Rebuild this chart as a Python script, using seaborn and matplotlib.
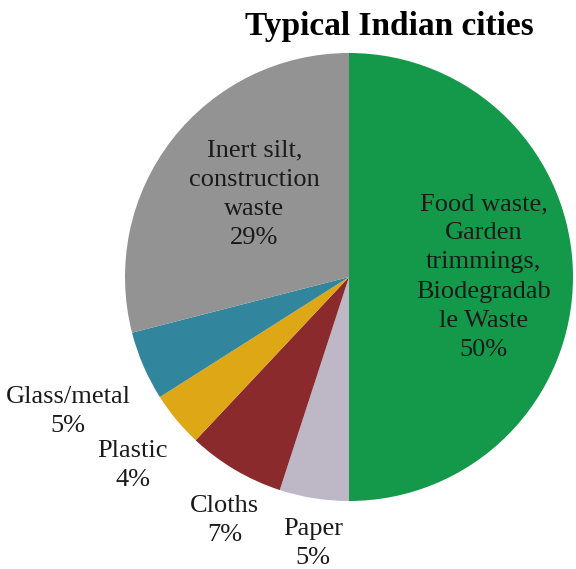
import numpy as np
import matplotlib
matplotlib.use("Agg")
import matplotlib.pyplot as plt
import seaborn as sns

categories = ["Food waste,\nGarden\ntrimmings,\nBiodegradab\nle Waste",
              "Paper", "Cloths", "Plastic", "Glass/metal",
              "Inert silt,\nconstruction\nwaste"]
values = [50, 5, 7, 4, 5, 29]
colors = ["#14994a", "#bdb7c6", "#8a2a2c", "#dda715", "#31859c", "#939393"]
label_dist = [0.60, 1.20, 1.22, 1.28, 1.39, 0.56]
label_turn = [0.0, 1.3, 3.6, 1.4, 2.2, -3.3]   # degrees, label placement tweak

sns.set_theme(style="white")
plt.rcParams["font.family"] = ["Liberation Serif", "DejaVu Serif"]

fig = plt.figure(figsize=(5.76, 5.69), dpi=100)
ax = fig.add_axes([125 / 576, 1 - 501 / 569, 448 / 576, 448 / 569])
palette = sns.color_palette(colors)
wedges, _ = ax.pie(values, colors=palette, startangle=90, counterclock=False,
                   wedgeprops=dict(linewidth=0))
ax.set_xlim(-1, 1)
ax.set_ylim(-1, 1)
ax.set_axis_off()

for w, cat, v, d, t in zip(wedges, categories, values, label_dist, label_turn):
    ang = np.deg2rad((w.theta1 + w.theta2) / 2 + t)
    ax.text(d * np.cos(ang), d * np.sin(ang), f"{cat}\n{v}%",
            ha="center", va="center", fontsize=19, color="#1a1a1a",
            linespacing=1.42, clip_on=False)

fig.text(389 / 576, 1 - 27 / 569, "Typical Indian cities", ha="center",
         va="center", fontsize=24, fontweight="bold", color="black")

fig.savefig("out.png", dpi=100)
